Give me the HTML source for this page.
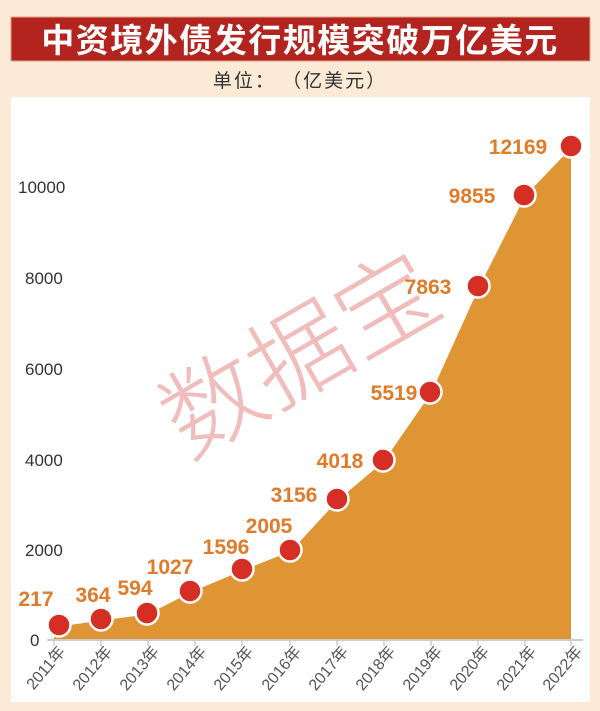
<!DOCTYPE html>
<html><head><meta charset="utf-8"><style>
body{margin:0;background:#fbebd6;}
svg{display:block}
</style></head><body>
<svg width="600" height="711" viewBox="0 0 600 711" xmlns="http://www.w3.org/2000/svg" font-family="Liberation Sans, Noto Sans CJK SC, sans-serif">
<rect width="600" height="711" fill="#fbebd6"/>
<rect x="11" y="17" width="579" height="44" fill="#b3241f" stroke="#d9a08a" stroke-width="1"/>
<text x="300" y="52" text-anchor="middle" font-size="33" font-weight="bold" fill="#fff" letter-spacing="1.5" font-family="Noto Sans CJK SC, sans-serif">中资境外债发行规模突破万亿美元</text>
<text x="300" y="87" text-anchor="middle" font-size="19" fill="#333" letter-spacing="2" font-family="Noto Sans CJK SC, sans-serif">单位： （亿美元）</text>
<rect x="11" y="97" width="579" height="605" fill="#fff"/>
<text x="300" y="390" text-anchor="middle" font-size="100" font-weight="300" fill="#f0bcbc" font-family="Noto Sans CJK SC, sans-serif" transform="rotate(-30 300 355)">数据宝</text>
<path d="M54,629 L59,625 L101,619 L147,613 L190,591 L242,569 L290,550 L337,499 L383,460 L430,392 L478,286 L524,195 L571,146 L571,640 L54,640 Z" fill="#e09535"/>
<polyline points="59,625 101,619 147,613 190,591 242,569 290,550 337,499 383,460 430,392 478,286 524,195 571,146" fill="none" stroke="#fff" stroke-width="3"/>
<line x1="47" y1="640" x2="583" y2="640" stroke="#ccc" stroke-width="2"/>
<g stroke="#ccc" stroke-width="1.5">
<line x1="54" y1="640" x2="54" y2="646"/><line x1="101" y1="640" x2="101" y2="646"/><line x1="148" y1="640" x2="148" y2="646"/><line x1="195" y1="640" x2="195" y2="646"/><line x1="242" y1="640" x2="242" y2="646"/><line x1="290" y1="640" x2="290" y2="646"/><line x1="337" y1="640" x2="337" y2="646"/><line x1="384" y1="640" x2="384" y2="646"/><line x1="431" y1="640" x2="431" y2="646"/><line x1="478" y1="640" x2="478" y2="646"/><line x1="525" y1="640" x2="525" y2="646"/><line x1="571" y1="640" x2="571" y2="646"/>
</g>
<g fill="#d42e25" stroke="#fff" stroke-width="2.5">
<circle cx="59" cy="625" r="11.5"/><circle cx="101" cy="619" r="11.5"/><circle cx="147" cy="613" r="11.5"/><circle cx="190" cy="591" r="11.5"/><circle cx="242" cy="569" r="11.5"/><circle cx="290" cy="550" r="11.5"/><circle cx="337" cy="499" r="11.5"/><circle cx="383" cy="460" r="11.5"/><circle cx="430" cy="392" r="11.5"/><circle cx="478" cy="286" r="11.5"/><circle cx="524" cy="195" r="11.5"/><circle cx="571" cy="146" r="11.5"/>
</g>
<g fill="#e07b2a" font-size="21" font-weight="bold" text-anchor="middle">
<text x="36" y="606">217</text><text x="93" y="602">364</text><text x="135" y="595">594</text><text x="170" y="574">1027</text><text x="226" y="554">1596</text><text x="269" y="533">2005</text><text x="294" y="502">3156</text><text x="340" y="468">4018</text><text x="394" y="400">5519</text><text x="428" y="294">7863</text><text x="472" y="203">9855</text><text x="518" y="154">12169</text>
</g>
<g fill="#333" font-size="17">
<text x="18" y="193">10000</text><text x="25" y="284">8000</text><text x="25" y="375">6000</text><text x="25" y="466">4000</text><text x="25" y="556">2000</text><text x="30" y="646">0</text>
</g>
<g fill="#555" font-size="16" text-anchor="end" font-family="Liberation Sans, Noto Sans CJK SC, sans-serif">
<text transform="translate(66,652) rotate(-50)">2011年</text>
<text transform="translate(113,652) rotate(-50)">2012年</text>
<text transform="translate(160,652) rotate(-50)">2013年</text>
<text transform="translate(207,652) rotate(-50)">2014年</text>
<text transform="translate(254,652) rotate(-50)">2015年</text>
<text transform="translate(302,652) rotate(-50)">2016年</text>
<text transform="translate(349,652) rotate(-50)">2017年</text>
<text transform="translate(396,652) rotate(-50)">2018年</text>
<text transform="translate(443,652) rotate(-50)">2019年</text>
<text transform="translate(490,652) rotate(-50)">2020年</text>
<text transform="translate(537,652) rotate(-50)">2021年</text>
<text transform="translate(583,652) rotate(-50)">2022年</text>
</g>
</svg>
</body></html>
